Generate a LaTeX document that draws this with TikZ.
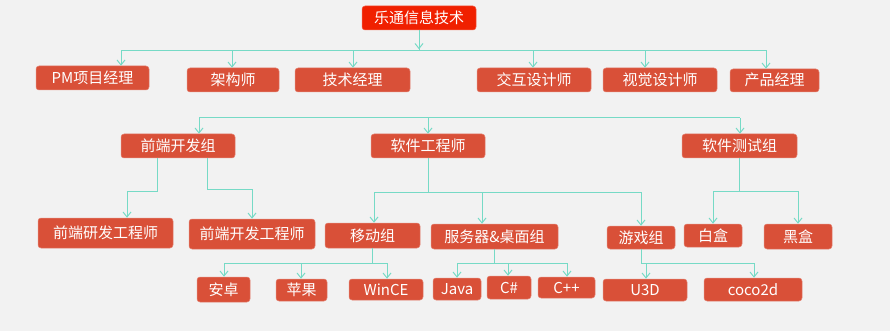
\documentclass[tikz,border=0pt]{standalone}
\usepackage{fontspec}
\setmainfont{Noto Sans CJK SC}
\usetikzlibrary{arrows.meta}
\definecolor{bg}{RGB}{242,242,242}
\definecolor{boxred}{RGB}{217,80,56}
\definecolor{rootred}{RGB}{240,32,0}
\definecolor{lineC}{RGB}{118,218,198}
\begin{document}
\begin{tikzpicture}[x=1pt,y=-1pt,
  box/.style={fill=boxred, draw=boxred!70!white, line width=0.5pt, rounded corners=3pt, text=white, inner sep=0pt,
    font=\fontsize{15}{17}\selectfont, text height=13pt, text depth=2pt},
  rootbox/.style={box, fill=rootred, draw=rootred!70!white},
  conn/.style={draw=lineC, line width=1pt},
  arr/.style={conn, -{Straight Barb[length=5pt,width=8pt]}}]
\fill[bg] (0,0) rectangle (890,331);
\useasboundingbox (0,0) rectangle (890,331);
% level 0
\node[rootbox, minimum width=114pt, minimum height=24pt] (root) at (419,18) {乐通信息技术};
% level 1
\node[box, minimum width=113pt, minimum height=24pt] (pm) at (92.5,78) {PM项目经理};
\node[box, minimum width=92pt, minimum height=24pt] (jg) at (233,80) {架构师};
\node[box, minimum width=115pt, minimum height=24pt] (js) at (352.5,80) {技术经理};
\node[box, minimum width=114pt, minimum height=24pt] (jh) at (534,80) {交互设计师};
\node[box, minimum width=114pt, minimum height=24pt] (sj) at (660,80) {视觉设计师};
\node[box, minimum width=89pt, minimum height=23pt] (cp) at (774.5,80.5) {产品经理};
\draw[arr] (root.south) -- ++(0,19);
\draw[arr] (root.south) -- ++(0,20) -| ([xshift=28.5pt]pm.north);
\draw[arr] (root.south) -- ++(0,20) -| ([xshift=-1pt]jg.north);
\draw[arr] (root.south) -- ++(0,20) -| ([xshift=0.5pt]js.north);
\draw[arr] (root.south) -- ++(0,20) -| ([xshift=-1pt]jh.north);
\draw[arr] (root.south) -- ++(0,20) -| ([xshift=-15pt]sj.north);
\draw[arr] (root.south) -- ++(0,20) -| ([xshift=-8.5pt]cp.north);
% level 2
\node[box, minimum width=114pt, minimum height=24pt] (qd) at (178,146) {前端开发组};
\node[box, minimum width=114pt, minimum height=24pt] (rj) at (428,146) {软件工程师};
\node[box, minimum width=115pt, minimum height=24pt] (cs) at (739.5,146) {软件测试组};
\coordinate (busL) at (199,118);
\coordinate (busR) at (740,118);
\draw[conn] (busL) -- (busR);
\draw[arr] (busL) -- (busL |- qd.north);
\draw[arr] (busL -| rj.north) -- (rj.north);
\draw[arr] (busR) -- (busR |- cs.north);
% level 3
\node[box, minimum width=135pt, minimum height=30pt] (qdyf) at (105.5,233) {前端研发工程师};
\node[box, minimum width=126pt, minimum height=30pt] (qdkf) at (252,234) {前端开发工程师};
\node[box, minimum width=95pt, minimum height=25pt] (yd) at (372.5,235.5) {移动组};
\node[box, minimum width=127pt, minimum height=25pt] (fw) at (494.5,236.5) {服务器\&桌面组};
\node[box, minimum width=68pt, minimum height=23pt] (yx) at (641,237.5) {游戏组};
\node[box, minimum width=58pt, minimum height=23pt] (bh) at (713,235.5) {白盒};
\node[box, minimum width=68pt, minimum height=25pt] (hh) at (798,236.5) {黑盒};
\draw[arr] ([xshift=-21pt]qd.south) -- ++(0,33) -| ([xshift=21.5pt]qdyf.north);
\draw[arr] ([xshift=29pt]qd.south) -- ++(0,31) -| (qdkf.north);
\draw[arr] (rj.south) -- ++(0,34) -| ([xshift=1.5pt]yd.north);
\draw[arr] (rj.south) -- ++(0,34) -| ([xshift=-12.5pt]fw.north);
\draw[arr] (rj.south) -- ++(0,34) -| (yx.north);
\draw[arr] (cs.south) -- ++(0,33) -| (bh.north);
\draw[arr] (cs.south) -- ++(0,33) -| (hh.north);
% level 4
\node[box, minimum width=53pt, minimum height=25pt] (az) at (223.5,289.5) {安卓};
\node[box, minimum width=51pt, minimum height=22pt] (pg) at (301.5,290) {苹果};
\node[box, minimum width=74pt, minimum height=21pt] (wince) at (386,289.5) {WinCE};
\node[box, minimum width=48pt, minimum height=22pt] (java) at (457,289) {Java};
\node[box, minimum width=44pt, minimum height=23pt] (csharp) at (509,287.5) {C\#};
\node[box, minimum width=57pt, minimum height=21pt] (cpp) at (566.5,287.5) {C++};
\node[box, minimum width=84pt, minimum height=22pt] (u3d) at (645,290) {U3D};
\node[box, minimum width=98pt, minimum height=23pt] (coco) at (753,289.5) {coco2d};
\draw[arr] (yd.south) -- ++(0,15) -| ([xshift=0.5pt]az.north);
\draw[arr] (yd.south) -- ++(0,15) -| ([xshift=-0.5pt]pg.north);
\draw[arr] (yd.south) -- ++(0,15) -| ([xshift=1pt]wince.north);
\draw[arr] (fw.south) -- ++(0,14) -| (java.north);
\draw[arr] (fw.south) -- ++(0,14) -| ([xshift=-1pt]csharp.north);
\draw[arr] (fw.south) -- ++(0,14) -| ([xshift=0.5pt]cpp.north);
\draw[arr] (yx.south) -- ++(0,14) -| ([xshift=1pt]u3d.north);
\draw[arr] (yx.south) -- ++(0,14) -| ([xshift=1pt]coco.north);
\end{tikzpicture}
\end{document}
